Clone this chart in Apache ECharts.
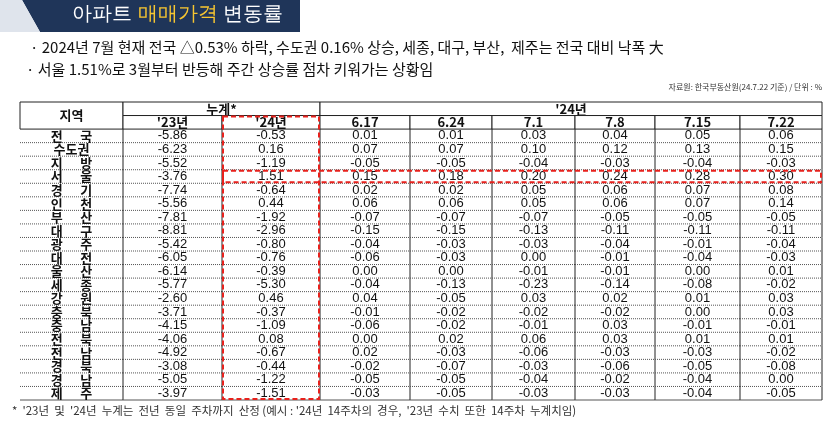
<!DOCTYPE html>
<html><head><meta charset="utf-8">
<script src="https://cdn.jsdelivr.net/npm/echarts@6/dist/echarts.min.js"></script>
<style>html,body{margin:0;background:#fff}#c{width:830px;height:429px}</style>
</head><body><div id="c"></div>
<script>
var regions = ['전국','수도권','지방','서울','경기','인천','부산','대구','광주','대전','울산','세종','강원','충북','충남','전북','전남','경북','경남','제주'];
var weeks = ['6.17','6.24','7.1','7.8','7.15','7.22'];
var cum23 = ['-5.86','-6.23','-5.52','-3.76','-7.74','-5.56','-7.81','-8.81','-5.42','-6.05','-6.14','-5.77','-2.60','-3.71','-4.15','-4.06','-4.92','-3.08','-5.05','-3.97'];
var cum24 = ['-0.53','0.16','-1.19','1.51','-0.64','0.44','-1.92','-2.96','-0.80','-0.76','-0.39','-5.30','0.46','-0.37','-1.09','0.08','-0.67','-0.44','-1.22','-1.51'];
var w617 = ['0.01','0.07','-0.05','0.15','0.02','0.06','-0.07','-0.15','-0.04','-0.06','0.00','-0.04','0.04','-0.01','-0.06','0.00','0.02','-0.02','-0.05','-0.03'];
var w624 = ['0.01','0.07','-0.05','0.18','0.02','0.06','-0.07','-0.15','-0.03','-0.03','0.00','-0.13','-0.05','-0.02','-0.02','0.02','-0.03','-0.07','-0.05','-0.05'];
var w71  = ['0.03','0.10','-0.04','0.20','0.05','0.05','-0.07','-0.13','-0.03','0.00','-0.01','-0.23','0.03','-0.02','-0.01','0.06','-0.06','-0.03','-0.04','-0.03'];
var w78  = ['0.04','0.12','-0.03','0.24','0.06','0.06','-0.05','-0.11','-0.04','-0.01','-0.01','-0.14','0.02','-0.02','0.03','0.03','-0.03','-0.06','-0.02','-0.03'];
var w715 = ['0.05','0.13','-0.04','0.28','0.07','0.07','-0.05','-0.11','-0.01','-0.04','0.00','-0.08','0.01','0.00','-0.01','0.01','-0.03','-0.05','-0.04','-0.04'];
var w722 = ['0.06','0.15','-0.03','0.30','0.08','0.14','-0.05','-0.11','-0.04','-0.03','0.01','-0.02','0.03','0.03','-0.01','0.01','-0.02','-0.08','0.00','-0.05'];

// column edges in axis units (x axis 0..802)
var colEdges = [0, 103, 202, 300, 390, 472, 555, 635, 720, 802];
var cols = [regions, cum23, cum24, w617, w624, w71, w78, w715, w722];

var cells = [];
cols.forEach(function (arr, c) {
  arr.forEach(function (v, r) { cells.push([c, r + 2, v]); });
});
var headers = [[0,0,'지역',2,1],[1,0,'누계*',1,2],[3,0,"'24년",1,6],[1,1,"'23년",1,1],[2,1,"'24년",1,1]];
weeks.forEach(function (w, i) { headers.push([3 + i, 1, w, 1, 1]); });

var chart = echarts.init(document.getElementById('c'));
chart.setOption({
  animation: false,
  grid: { left: 20, right: 8, top: 102, bottom: 29 },
  xAxis: { type: 'value', min: 0, max: 802, show: false },
  yAxis: { type: 'value', min: 0, max: 22, inverse: true, show: false },
  graphic: [
    { type: 'polygon', shape: { points: [[0,0],[300,0],[300,32],[40,32],[22,0]] }, style: { fill: '#1f3559' } },
    { type: 'polygon', shape: { points: [[0,0],[22,0],[40,32],[0,32]] }, style: { fill: '#dfe4ec' } },
    { type: 'text', left: 72, top: 4, style: { rich: { w: { fill: '#fff', fontSize: 20 }, y: { fill: '#f6c531', fontSize: 20 } }, text: '{w|아파트 }{y|매매가격}{w| 변동률}', fontFamily: 'Noto Sans CJK KR' } },
    { type: 'text', left: 30, top: 40, style: { text: '· 2024년 7월 현재 전국 △0.53% 하락, 수도권 0.16% 상승, 세종, 대구, 부산,  제주는 전국 대비 낙폭 大', fontSize: 15, fill: '#111', fontFamily: 'Noto Sans CJK KR' } },
    { type: 'text', left: 26, top: 62, style: { text: '· 서울 1.51%로 3월부터 반등해 주간 상승률 점차 키워가는 상황임', fontSize: 15, fill: '#111', fontFamily: 'Noto Sans CJK KR' } },
    { type: 'text', right: 8, top: 83, style: { text: '자료원: 한국부동산원(24.7.22 기준) / 단위 : %', fontSize: 8, fill: '#333', fontFamily: 'Noto Sans CJK KR' } },
    { type: 'text', left: 12, top: 405, style: { text: "*  '23년  및  '24년  누계는  전년  동일  주차까지  산정 (예시 : '24년  14주차의  경우,  '23년  수치  또한  14주차  누계치임)", fontSize: 11.5, fill: '#333', fontFamily: 'Noto Sans CJK KR' } }
  ],
  series: [
    {
      type: 'custom', data: headers, silent: true,
      renderItem: function (p, api) {
        var c = api.value(0), r = api.value(1), rs = api.value(3), cs = api.value(4);
        var a = api.coord([colEdges[c], r]), b = api.coord([colEdges[c + cs], r + rs]);
        return { type: 'group', children: [
          { type: 'rect', shape: { x: a[0], y: a[1], width: b[0] - a[0], height: b[1] - a[1] }, style: { fill: '#fff', stroke: '#222', lineWidth: 1 } },
          { type: 'text', x: (a[0] + b[0]) / 2, y: (a[1] + b[1]) / 2, style: { text: api.value(2), align: 'center', verticalAlign: 'middle', fontSize: 13, fontWeight: 'bold', fill: '#111', fontFamily: 'Noto Sans CJK KR' } }
        ] };
      }
    },
    {
      type: 'custom', data: cells, silent: true,
      renderItem: function (p, api) {
        var c = api.value(0), r = api.value(1);
        var a = api.coord([colEdges[c], r]), b = api.coord([colEdges[c + 1], r + 1]);
        var t = String(api.value(2));
        if (c === 0 && t.length === 2) t = t[0] + '      ' + t[1];
        return { type: 'group', children: [
          { type: 'line', shape: { x1: a[0], y1: b[1], x2: b[0], y2: b[1] }, style: { stroke: '#555', lineWidth: 1, lineDash: r === 21 ? null : [1, 1] } },
          { type: 'line', shape: { x1: b[0], y1: a[1], x2: b[0], y2: b[1] }, style: { stroke: '#222', lineWidth: 1 } },
          { type: 'text', x: (a[0] + b[0]) / 2, y: (a[1] + b[1]) / 2, style: { text: t, align: 'center', verticalAlign: 'middle', fontSize: 13, fontWeight: c === 0 ? 'bold' : 'normal', fill: '#111', fontFamily: c === 0 ? 'Noto Sans CJK KR' : 'Liberation Sans' } }
        ] };
      }
    },
    {
      type: 'custom', silent: true, z: 10,
      data: [[2, 1, 3, 22], [2, 5, 9, 6]],
      renderItem: function (p, api) {
        var a = api.coord([colEdges[api.value(0)], api.value(1)]), b = api.coord([colEdges[api.value(2)], api.value(3)]);
        return { type: 'rect', shape: { x: a[0] + 1, y: a[1] + 1, width: b[0] - a[0] - 2, height: b[1] - a[1] - 2 }, style: { fill: null, stroke: '#e8211c', lineWidth: 2, lineDash: [5, 3] } };
      }
    }
  ]
});
</script></body></html>
